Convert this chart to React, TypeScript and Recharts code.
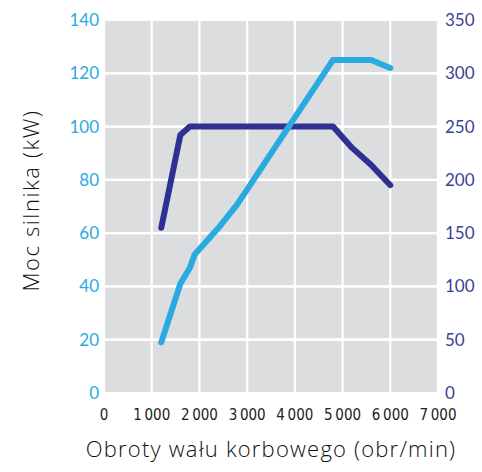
import React from "react"
import {
  LineChart,
  Line,
  XAxis,
  YAxis,
  CartesianGrid,
  ReferenceLine,
  Label
} from "recharts"

// moc (kW) - lewa oś
const powerRpm = [1200, 1600, 1800, 1900, 2400, 2800, 4800, 5600, 6000]
const powerKw = [19, 41, 47, 52, 62, 71, 125, 125, 122]

// moment obrotowy (Nm) - prawa oś
const torqueRpm = [1200, 1600, 1800, 4800, 5200, 5600, 6000]
const torqueNm = [155, 242, 250, 250, 230, 214, 195]

const rpmTicks = [0, 1000, 2000, 3000, 4000, 5000, 6000, 7000]
const kwTicks = [0, 20, 40, 60, 80, 100, 120, 140]
const nmTicks = [0, 50, 100, 150, 200, 250, 300, 350]

const powerData = powerRpm.map((rpm, i) => ({ rpm, kw: powerKw[i] }))
const torqueData = torqueRpm.map((rpm, i) => ({ rpm, nm: torqueNm[i] }))

const LIGHT = "#29abe2"
const DARK = "#2e3192"
const FONT = "'Open Sans', 'Noto Sans', sans-serif"
const TICK_FONT = "Lato, 'Noto Sans', sans-serif"

const fmtRpm = (v: number) =>
  v === 0 ? "0" : `${Math.floor(v / 1000)}\u2009${String(v % 1000).padStart(3, "0")}`

export default function App() {
  return (
    <div style={{ position: "absolute", left: 0, top: 0, width: 482, height: 472, background: "#fff" }}>
      <LineChart
        width={482}
        height={472}
        data={powerData}
        margin={{ top: 20, right: 0, bottom: 0, left: 0 }}
      >
        <CartesianGrid yAxisId="kw" fill="#dcdddf" stroke="#ffffff" strokeWidth={2.2} />
        {kwTicks.slice(1, -1).map((v) => (
          <ReferenceLine key={v} yAxisId="kw" y={v} stroke="#ffffff" strokeWidth={2.2} />
        ))}
        <XAxis
          type="number"
          dataKey="rpm"
          domain={[0, 7000]}
          ticks={rpmTicks}
          tickFormatter={fmtRpm}
          axisLine={false}
          tickLine={false}
          tickSize={6}
          tickMargin={10}
          height={79}
          tick={{ fill: "#222", fontSize: 15, fontFamily: "'Liberation Sans Narrow', 'DejaVu Sans Condensed', Roboto, sans-serif" }}
        >
          <Label
            value="Obroty wału korbowego (obr/min)"
            position="insideBottom"
            offset={15}
            style={{ fill: "#111", fontSize: 22, fontWeight: 300, letterSpacing: 1.2, fontFamily: FONT }}
          />
        </XAxis>
        <YAxis
          yAxisId="kw"
          domain={[0, 140]}
          ticks={kwTicks}
          axisLine={false}
          tickLine={false}
          tickSize={3}
          tickMargin={2}
          width={104}
          tick={{ fill: LIGHT, fontSize: 17, fontFamily: TICK_FONT }}
        >
          <Label
            value="Moc silnika (kW)"
            angle={-90}
            position="center"
            dx={-21}
            dy={-6}
            style={{ fill: "#111", fontSize: 22, fontWeight: 300, letterSpacing: 1.6, fontFamily: FONT, textAnchor: "middle" }}
          />
        </YAxis>
        <YAxis
          yAxisId="nm"
          orientation="right"
          domain={[0, 350]}
          ticks={nmTicks}
          axisLine={false}
          tickLine={false}
          tickSize={5}
          tickMargin={2}
          width={44}
          tick={{ fill: "#3b3f98", fontSize: 17, fontFamily: TICK_FONT, textAnchor: "start" }}
        />
        <Line
          yAxisId="nm"
          data={torqueData}
          dataKey="nm"
          type="linear"
          stroke={DARK}
          strokeWidth={6}
          strokeLinecap="round"
          strokeLinejoin="round"
          dot={false}
          isAnimationActive={false}
        />
        <Line
          yAxisId="kw"
          dataKey="kw"
          type="linear"
          stroke={LIGHT}
          strokeWidth={6}
          strokeLinecap="round"
          strokeLinejoin="round"
          dot={false}
          isAnimationActive={false}
        />
      </LineChart>
    </div>
  )
}
